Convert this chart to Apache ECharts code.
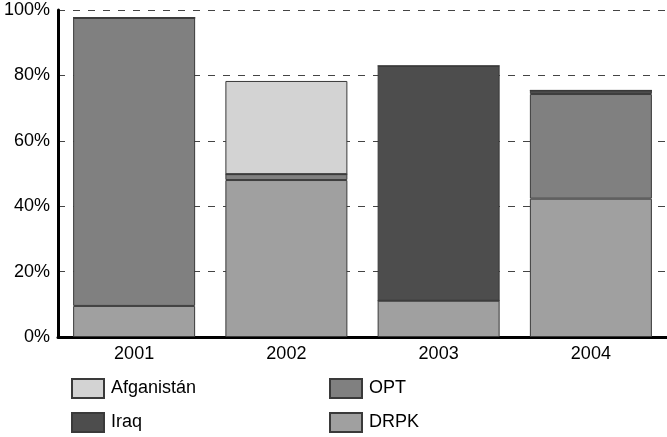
<!DOCTYPE html>
<html><head><meta charset="utf-8">
<script src="https://cdn.jsdelivr.net/npm/echarts@6/dist/echarts.min.js"></script>
<style>html,body{margin:0;padding:0;background:#fff}#c{width:667px;height:437px}</style>
</head><body><div id="c"></div>
<script>
const categories = ['2001', '2002', '2003', '2004'];
const drpk = [9.5, 48.0, 11.1, 42.3];
const opt = [88.1, 1.8, 0, 32.0];
const iraq = [0, 0, 71.8, 1.1];
const afganistan = [0, 28.5, 0, 0];
const yTicks = [0, 20, 40, 60, 80, 100];

const font = 'Liberation Sans, Arial, Helvetica, sans-serif';
const border = {borderColor: '#3a3a3a', borderWidth: 1};
function mk(name, data, color) {
  return {name, type: 'bar', stack: 's', data, barWidth: 122,
    itemStyle: Object.assign({color}, border), emphasis: {disabled: true}};
}
const legendCommon = {orient: 'vertical', top: 378, padding: 0, icon: 'rect',
  itemWidth: 32, itemHeight: 19, itemGap: 13, selectedMode: false,
  textStyle: {color: '#000', fontSize: 18, fontFamily: font, padding: [0, 0, 0, 2]}};
const chart = echarts.init(document.getElementById('c'));
chart.setOption({
  animation: false,
  grid: {left: 58, top: 10, width: 612, height: 327, containLabel: false},
  xAxis: {type: 'category', data: categories,
    axisLine: {lineStyle: {color: '#000', width: 3}},
    axisTick: {inside: true, length: 7, lineStyle: {color: '#000', width: 3}},
    axisLabel: {color: '#000', fontSize: 18, fontFamily: font, margin: 8}
  },
  yAxis: {type: 'value', min: 0, max: 100, interval: 20,
    axisLine: {show: true, lineStyle: {color: '#000', width: 3}},
    axisTick: {show: false},
    axisLabel: {color: '#000', fontSize: 18, fontFamily: font, margin: 8,
      formatter: v => yTicks.includes(v) ? v + '%' : ''},
    splitLine: {show: true, lineStyle: {color: '#444', type: [7, 8], width: 1}}
  },
  legend: [
    Object.assign({data: ['Afganistán', 'Iraq'], left: 71}, legendCommon),
    Object.assign({data: ['OPT', 'DRPK'], left: 329}, legendCommon)
  ],
  series: [
    mk('DRPK', drpk, '#a0a0a0'),
    mk('OPT', opt, '#808080'),
    mk('Iraq', iraq, '#4d4d4d'),
    mk('Afganistán', afganistan, '#d3d3d3')
  ]
});
</script></body></html>
